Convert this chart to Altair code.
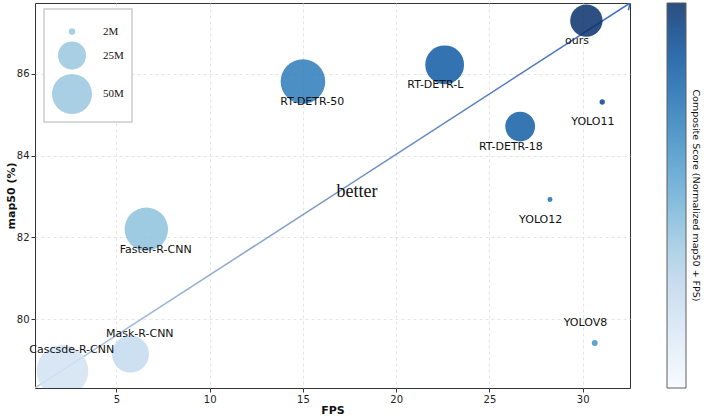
import altair as alt
import pandas as pd

# ---- data ----
models = ["ours", "RT-DETR-L", "RT-DETR-50", "YOLO11", "RT-DETR-18", "YOLO12",
          "Faster-R-CNN", "YOLOV8", "Mask-R-CNN", "Cascsde-R-CNN"]
fps = [30.2, 22.6, 15.0, 31.05, 26.65, 28.25, 6.6, 30.65, 5.75, 2.1]
map50 = [87.3, 86.22, 85.81, 85.31, 84.71, 82.93, 82.2, 79.42, 79.15, 78.74]
params_m = [33, 47, 62, 1.6, 28, 1.5, 59, 1.8, 43, 83]
label_side = ["below-left", "below-left", "below-right", "below-left", "below-left",
              "below-left", "below-right", "above-left", "above-right", "above-right"]

x_domain = [0.63, 32.54]
y_domain = [78.32, 87.73]
x_ticks = [5, 10, 15, 20, 25, 30]
y_ticks = [80, 82, 84, 86]
legend_sizes = [2, 25, 50]
better_x = [17.9]
better_y = [83.1]
cbar_title = "Composite Score (Normalized map50 + FPS)"

blues = ['#f7fbff', '#deebf7', '#c6dbef', '#9ecae1', '#6baed6',
         '#4292c6', '#2171b5', '#08519c', '#08306b']
score_lo, score_hi = -0.45, 1.97
color_domain = [score_lo + i * (score_hi - score_lo) / 8 for i in range(9)]

W, H = 595, 385

df = pd.DataFrame(dict(model=models, fps=fps, map50=map50,
                       params=params_m, side=label_side))

xs = alt.Scale(domain=x_domain, nice=False, zero=False)
ys = alt.Scale(domain=y_domain, nice=False, zero=False)

base = alt.Chart(df).transform_joinaggregate(
    fmin='min(fps)', fmax='max(fps)', mmin='min(map50)', mmax='max(map50)'
).transform_calculate(
    score='(datum.map50 - datum.mmin) / (datum.mmax - datum.mmin)'
          ' + (datum.fps - datum.fmin) / (datum.fmax - datum.fmin)'
)

bubbles = base.mark_circle(opacity=0.85, clip=True).encode(
    x=alt.X('fps:Q', scale=xs, title='FPS',
            axis=alt.Axis(values=x_ticks)),
    y=alt.Y('map50:Q', scale=ys, title='map50 (%)',
            axis=alt.Axis(values=y_ticks)),
    size=alt.Size('params:Q',
                  scale=alt.Scale(type='linear', zero=False, domain=[2, 50],
                                  range=[41, 1600]),
                  legend=alt.Legend(orient='none', legendX=9, legendY=6,
                                    values=legend_sizes,
                                    labelExpr="datum.value + 'M'",
                                    title=' ', titleOrient='top',
                                    titleFontSize=5, titlePadding=4,
                                    padding=8, rowPadding=4,
                                    symbolType='circle',
                                    symbolFillColor='#9ecae1',
                                    symbolStrokeWidth=0, symbolOpacity=0.9,
                                    fillColor='white', strokeColor='#cccccc',
                                    labelFont='Liberation Serif',
                                    labelFontSize=11, labelOffset=11,
                                    labelColor='#111111')),
    color=alt.Color('score:Q',
                    scale=alt.Scale(domain=color_domain, range=blues,
                                    interpolate='rgb'),
                    legend=alt.Legend(orient='right', offset=37, title=None,
                                      direction='vertical',
                                      gradientLength=H, gradientThickness=19,
                                      labelOpacity=0, padding=0,
                                      gradientStrokeColor='#444444',
                                      gradientStrokeWidth=1)),
)

labels = base.transform_calculate(
    lx='datum.fps + (indexof(datum.side, "left") >= 0 ? -0.5 : 0.5)',
    ly='datum.map50 + (indexof(datum.side, "below") >= 0 ? -0.5 : 0.5)'
).mark_text(font='DejaVu Sans', fontSize=11, color='#111111',
            baseline='middle', align='center').encode(
    x=alt.X('lx:Q', scale=xs),
    y=alt.Y('ly:Q', scale=ys),
    text='model:N'
)

arrow_df = pd.DataFrame({'ax': x_domain, 'ay': y_domain})
arrow_line = alt.Chart(arrow_df).mark_line(
    strokeWidth=1.5, clip=True,
    stroke=alt.Gradient(gradient='linear',
                        stops=[alt.GradientStop(color='#b4cde6', offset=0),
                               alt.GradientStop(color='#7896c4', offset=0.5),
                               alt.GradientStop(color='#3c6cc0', offset=1)],
                        x1=0, y1=1, x2=1, y2=0)
).encode(x=alt.X('ax:Q', scale=xs), y=alt.Y('ay:Q', scale=ys))

arrow_head = alt.Chart(arrow_df.tail(1)).mark_point(
    shape='M -1 -1 L 0 0 L -1 1', filled=False, size=110, angle=327,
    color='#3c6cc0', strokeWidth=1.5, opacity=1, clip=True
).encode(x=alt.X('ax:Q', scale=xs), y=alt.Y('ay:Q', scale=ys))

better = alt.Chart(pd.DataFrame({'bx': better_x, 'by': better_y, 't': ['better']})).mark_text(
    font='Liberation Serif', fontSize=18, color='#111111'
).encode(x=alt.X('bx:Q', scale=xs), y=alt.Y('by:Q', scale=ys), text='t:N')

cbar_text = alt.Chart(pd.DataFrame({'t': [cbar_title]})).mark_text(
    angle=90, font='DejaVu Sans', fontSize=9.5, color='#111111'
).encode(text='t:N', x=alt.value(W + 66), y=alt.value(H / 2))

chart = alt.layer(arrow_line, arrow_head, bubbles, labels, better, cbar_text).properties(
    width=W, height=H,
    padding={'left': 5, 'top': 3, 'right': 0, 'bottom': 0}
).configure_view(
    stroke='#333333', strokeWidth=1
).configure_axis(
    domain=False, tickColor='#333333', tickSize=4,
    labelFont='DejaVu Sans', labelFontSize=10, labelColor='#222222',
    labelPadding=2,
    titleFont='DejaVu Sans', titleFontWeight='bold', titleFontSize=11,
    titleColor='#111111', titlePadding=0,
    gridColor='#dddddd', gridDash=[3, 3], gridWidth=0.8
).configure_legend(strokeWidth=1.5)

chart.save("out.html", embed_options={"renderer": "svg", "actions": False})
